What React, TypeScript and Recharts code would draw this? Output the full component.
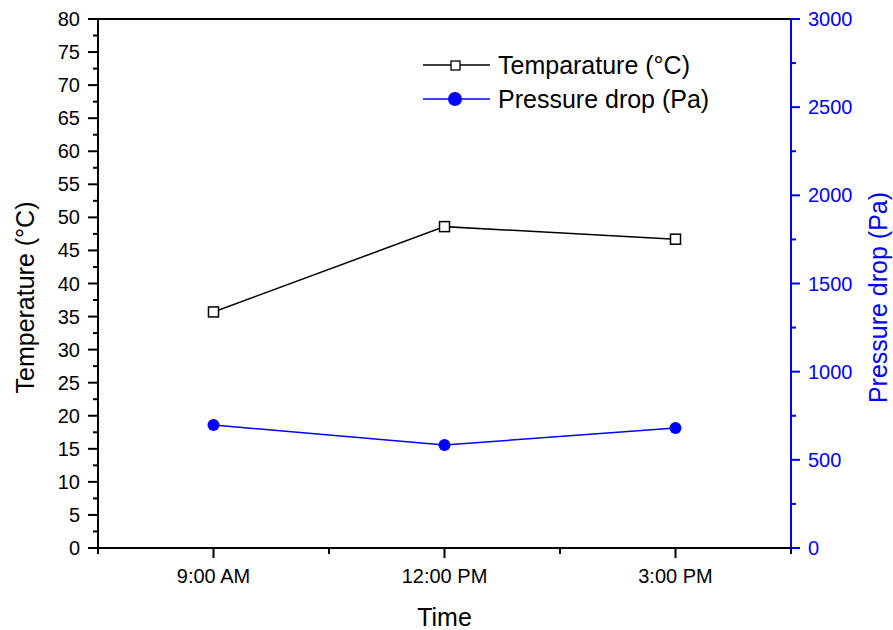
import { Legend, Line, LineChart, ReferenceLine, XAxis, YAxis } from "recharts";

const timeLabels = ["9:00 AM", "12:00 PM", "3:00 PM"];
const timePositions = [1, 2, 3];
const temperature = [35.7, 48.6, 46.7];
const pressureDrop = [697, 584, 680];

const xTicks = [0.5, 1, 1.5, 2, 2.5, 3, 3.5];
const tempTicks = [
  0, 2.5, 5, 7.5, 10, 12.5, 15, 17.5, 20, 22.5, 25, 27.5, 30, 32.5, 35, 37.5, 40,
  42.5, 45, 47.5, 50, 52.5, 55, 57.5, 60, 62.5, 65, 67.5, 70, 72.5, 75, 77.5, 80,
];
const pressureTicks = [
  0, 250, 500, 750, 1000, 1250, 1500, 1750, 2000, 2250, 2500, 2750, 3000,
];

const data = timePositions.map((t, i) => ({
  t,
  temperature: temperature[i],
  pressure: pressureDrop[i],
}));

const FONT = "'Liberation Sans', Arial, sans-serif";
const BLUE = "#0000ff";

const XTick = ({ x, y, payload }: any) => {
  const major = Number.isInteger(payload.value);
  return (
    <g>
      <line x1={x} x2={x} y1={y} y2={y + (major ? 10 : 6)} stroke="#000" strokeWidth={2} />
      {major && (
        <text x={x} y={y + 35} textAnchor="middle" fontSize={20} fontFamily={FONT} fill="#000">
          {timeLabels[payload.value - 1]}
        </text>
      )}
    </g>
  );
};

const LeftTick = ({ x, y, payload }: any) => {
  const major = payload.value % 5 === 0;
  return (
    <g>
      <line x1={x} x2={x - (major ? 10 : 5)} y1={y} y2={y} stroke="#000" strokeWidth={2} />
      {major && (
        <text x={x - 18} y={y} dy="0.35em" textAnchor="end" fontSize={20} fontFamily={FONT} fill="#000">
          {payload.value}
        </text>
      )}
    </g>
  );
};

const RightTick = ({ x, y, payload }: any) => {
  const major = payload.value % 500 === 0;
  return (
    <g>
      <line x1={x} x2={x + (major ? 9 : 5)} y1={y} y2={y} stroke={BLUE} strokeWidth={2} />
      {major && (
        <text x={x + 17} y={y} dy="0.35em" textAnchor="start" fontSize={20} fontFamily={FONT} fill={BLUE}>
          {payload.value}
        </text>
      )}
    </g>
  );
};

const SquareDot = (props: any) => {
  const { cx, cy, index } = props;
  if (cx == null || cy == null) return <g key={index} />;
  return (
    <rect key={index} x={cx - 5} y={cy - 5} width={10} height={10} fill="#fff" stroke="#000" strokeWidth={1.5} />
  );
};

const XTitle = ({ viewBox }: any) => (
  <text
    x={viewBox.x + viewBox.width / 2}
    y={viewBox.y + 78}
    textAnchor="middle"
    fontSize={25}
    fontFamily={FONT}
    fill="#000"
  >
    Time
  </text>
);

const LeftTitle = ({ viewBox }: any) => {
  const x = viewBox.x + 34;
  const y = viewBox.y + viewBox.height / 2 + 14;
  return (
    <text x={x} y={y} transform={`rotate(-90, ${x}, ${y})`} textAnchor="middle" fontSize={25} fontFamily={FONT} fill="#000">
      Temperature (°C)
    </text>
  );
};

const RightTitle = ({ viewBox }: any) => {
  const x = viewBox.x + 96;
  const y = viewBox.y + viewBox.height / 2 + 14;
  return (
    <text x={x} y={y} transform={`rotate(-90, ${x}, ${y})`} textAnchor="middle" fontSize={25} fontFamily={FONT} fill={BLUE}>
      Pressure drop (Pa)
    </text>
  );
};

const LegendBox = () => (
  <div style={{ fontFamily: FONT, fontSize: 25, color: "#000" }}>
    <div style={{ display: "flex", alignItems: "center", height: 34 }}>
      <svg width={67} height={34}>
        <line x1={0} x2={67} y1={17} y2={17} stroke="#000" strokeWidth={1.5} />
        <rect x={28} y={13} width={9} height={9} fill="#fff" stroke="#000" strokeWidth={1.3} />
      </svg>
      <span style={{ marginLeft: 8, lineHeight: "34px" }}>Temparature (°C)</span>
    </div>
    <div style={{ display: "flex", alignItems: "center", height: 34 }}>
      <svg width={67} height={34}>
        <line x1={0} x2={67} y1={17} y2={17} stroke={BLUE} strokeWidth={1.5} />
        <circle cx={32} cy={17} r={7} fill={BLUE} />
      </svg>
      <span style={{ marginLeft: 8, lineHeight: "34px" }}>Pressure drop (Pa)</span>
    </div>
  </div>
);

export default function App() {
  return (
    <div style={{ position: "absolute", left: 0, top: 0, width: 893, height: 630, background: "#fff" }}>
      <LineChart width={893} height={630} data={data} margin={{ top: 19, right: 0, bottom: 0, left: 0 }}>
        <XAxis
          dataKey="t"
          type="number"
          domain={[0.5, 3.5]}
          ticks={xTicks}
          interval={0}
          tickSize={0}
          tickMargin={0}
          height={82}
          axisLine={{ stroke: "#000", strokeWidth: 2 }}
          tick={XTick}
          label={{ content: XTitle }}
        />
        <YAxis
          yAxisId="left"
          domain={[0, 80]}
          ticks={tempTicks}
          interval={0}
          tickSize={0}
          tickMargin={0}
          width={98}
          axisLine={{ stroke: "#000", strokeWidth: 2 }}
          tick={LeftTick}
          label={{ content: LeftTitle }}
        />
        <YAxis
          yAxisId="right"
          orientation="right"
          domain={[0, 3000]}
          ticks={pressureTicks}
          interval={0}
          tickSize={0}
          tickMargin={0}
          width={102}
          axisLine={{ stroke: BLUE, strokeWidth: 2 }}
          tick={RightTick}
          label={{ content: RightTitle }}
        />
        <ReferenceLine yAxisId="left" y={80} stroke="#000" strokeWidth={2} />
        <Legend
          layout="vertical"
          align="center"
          verticalAlign="middle"
          wrapperStyle={{ left: 423, top: 48, width: 330 }}
          content={() => <LegendBox />}
        />
        <Line
          yAxisId="left"
          dataKey="temperature"
          stroke="#000"
          strokeWidth={1.5}
          dot={SquareDot}
          activeDot={false}
          isAnimationActive={false}
        />
        <Line
          yAxisId="right"
          dataKey="pressure"
          stroke={BLUE}
          strokeWidth={1.5}
          dot={{ r: 6, fill: BLUE, stroke: BLUE, strokeWidth: 0 }}
          activeDot={false}
          isAnimationActive={false}
        />
      </LineChart>
    </div>
  );
}
